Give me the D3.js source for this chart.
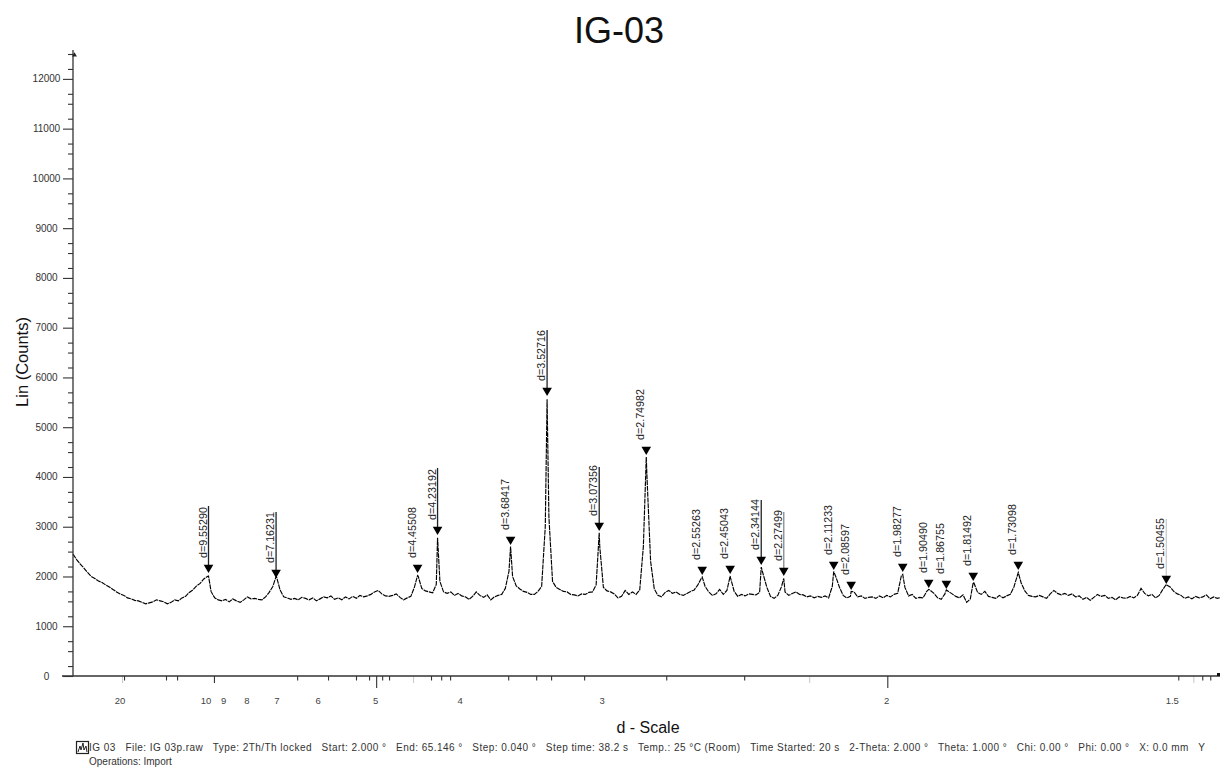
<!DOCTYPE html>
<html><head><meta charset="utf-8">
<script src="https://cdnjs.cloudflare.com/ajax/libs/d3/7.8.5/d3.min.js"></script>
<style>html,body{margin:0;background:#fff}svg{display:block;font-family:"Liberation Sans",Arial,sans-serif}</style>
</head><body><svg id="c" width="1220" height="772"></svg>
<script>
const chartTitle = "IG-03";
const scanStart = 2, scanEnd = 65.146, scanStep = 0.2;
const scanCounts = [
2450,2340,2250,2170,2080,2000,1960,1910,1880,1830,
1790,1740,1690,1650,1620,1570,1550,1520,1510,1480,
1450,1470,1490,1530,1510,1490,1450,1480,1530,1510,
1570,1600,1680,1730,1810,1860,1950,2000,1700,1570,
1530,1510,1540,1490,1550,1510,1480,1530,1590,1550,
1560,1540,1530,1590,1680,1800,2000,1730,1590,1570,
1540,1560,1530,1580,1560,1530,1570,1510,1550,1590,
1570,1610,1540,1570,1530,1590,1550,1600,1560,1620,
1590,1610,1640,1690,1720,1650,1610,1600,1620,1650,
1580,1530,1570,1600,1790,2010,1760,1710,1690,1670,
1840,1900,1690,1660,1690,1620,1660,1610,1590,1540,
1600,1690,1620,1580,1630,1530,1590,1620,1640,1760,
2100,2000,1810,1750,1700,1680,1640,1640,1700,1800,
3000,3200,1900,1780,1740,1700,1690,1640,1630,1610,
1650,1640,1680,1690,1830,2600,1780,1710,1690,1650,
1570,1600,1720,1640,1690,1640,1730,2600,4000,2300,
1750,1620,1590,1680,1720,1660,1690,1640,1620,1660,
1700,1730,1830,1970,1800,1690,1620,1650,1740,1640,
1720,1970,1700,1600,1640,1610,1650,1640,1630,1680,
2040,1780,1600,1560,1620,1790,1690,1620,1660,1690,
1640,1630,1590,1610,1570,1600,1580,1610,1570,1800,
1990,1780,1620,1570,1600,1690,1590,1610,1560,1580,
1590,1560,1610,1570,1620,1590,1640,1660,2010,1780,
1610,1640,1560,1580,1570,1700,1720,1660,1570,1540,
1650,1700,1650,1600,1570,1630,1480,1550,1870,1680,
1640,1700,1600,1580,1560,1620,1570,1610,1640,1790,
2030,1870,1710,1620,1600,1590,1620,1590,1560,1650,
1720,1660,1630,1660,1620,1650,1590,1610,1540,1580,
1520,1580,1640,1600,1620,1560,1580,1530,1590,1570,
1560,1600,1570,1620,1760,1660,1610,1640,1570,1620,
1740,1830,1790,1700,1650,1620,1560,1590,1550,1600,
1570,1590,1630,1550,1590,1560,1580];
const peakLabels = ["d=9.55290","d=7.16231","d=4.45508","d=4.23192","d=3.68417","d=3.52716","d=3.07356","d=2.74982","d=2.55263","d=2.45043","d=2.34144","d=2.27499","d=2.11233","d=2.08597","d=1.98277","d=1.90490","d=1.86755","d=1.81492","d=1.73098","d=1.50455"];
const peakAngles = [9.46,13.18,20.97,22.07,26.09,28.10,30.97,33.56,36.64,38.18,39.89,41.13,43.88,44.84,47.68,49.11,50.08,51.56,54.04,62.19];
const peakApex = [2010,2000,2020,2780,2600,5560,2880,4400,1990,2010,2190,1960,2100,1700,2040,1740,1730,1880,2080,1840];
const markerTips = [2070,1970,2070,2834,2633,5628,2915,4442,2030,2050,2231,2010,2131,1729,2090,1769,1749,1910,2131,1849];
const leaderTops = [3417,3296,null,4181,null,6955,4201,null,null,null,3538,3296,null,null,null,null,null,null,null,3156];
const leaderTones = ["#222","#222",null,"#222",null,"#222","#222",null,null,null,"#222","#888",null,null,null,null,null,null,null,"#ccc"];
const yMajor = d3.range(0,12001,1000);
const yMinor = [200,500,700,1200,1500,1700,2200,2500,2700,3200,3500,3700,4200,4500,4700,5200,5500,5700,6200,6500,6700,7200,7500,7700,8200,8500,8700,9200,9500,9700,10200,10500,10700,11200,11500,11700,12200,12500];
const xTickAngles = [4.81,7.12,7.73,14.34,16.04,17.58,18.30,19.02,19.40,21.71,22.27,22.76,25.96,27.50,28.32,30.14,34.66,38.95,62.85,64.17,64.61];
const xFaintTicks = [4.70,20.72,42.53,63.68];
const xMidTicks = [9.76];
const xLongTicks = [18.69,46.83];
const xLabelAngles = [4.59,9.32,10.29,11.58,13.23,15.49,18.66,23.31,31.13,46.80,62.52];
const xLabels = ["20","10","9","8","7","6","5","4","3","2","1.5"];
const footerLine1 = "IG 03   File: IG 03p.raw   Type: 2Th/Th locked   Start: 2.000 °   End: 65.146 °   Step: 0.040 °   Step time: 38.2 s   Temp.: 25 °C (Room)   Time Started: 20 s   2-Theta: 2.000 °   Theta: 1.000 °   Chi: 0.00 °   Phi: 0.00 °   X: 0.0 mm   Y";
const footerLine2 = "Operations: Import";

const svg = d3.select("#c");
const x = d3.scaleLinear().domain([scanStart,scanEnd]).range([73,1220]);
const y = d3.scaleLinear().domain([0,12500]).range([676,54]);

const pts = scanCounts.map((c,i)=>[scanStart+i*scanStep,c])
  .concat(peakAngles.map((a,i)=>[a,peakApex[i]]))
  .sort((a,b)=>a[0]-b[0]);

svg.append("path").attr("d",d3.line().x(d=>x(d[0])).y(d=>y(d[1]))(pts))
  .attr("fill","none").attr("stroke","#000").attr("stroke-width",1.15).attr("stroke-dasharray","5 0.8");

// y axis
const yA = svg.append("g").attr("transform","translate(73,0)");
yA.call(d3.axisLeft(y).tickValues(yMajor).tickSize(10).tickSizeOuter(0).tickFormat(""));
yA.selectAll(".domain").remove();
const yB = svg.append("g").attr("transform","translate(73,0)");
yB.call(d3.axisLeft(y).tickValues(yMinor).tickSize(5).tickSizeOuter(0).tickFormat(""));
yB.selectAll(".domain").remove();
svg.selectAll("g line").attr("stroke","#333").attr("stroke-width",1.1);
svg.append("line").attr("x1",73).attr("x2",73).attr("y1",50).attr("y2",676).attr("stroke","#333").attr("stroke-width",1.3);
svg.append("path").attr("d",d3.symbol(d3.symbolTriangle,10)()).attr("transform","translate(74.5,55)").attr("fill","#222");
svg.selectAll(".ylab").data(yMajor).join("text").attr("class","ylab")
  .attr("x",46.5).attr("y",d=>y(d)+3.5).attr("text-anchor","middle").attr("font-size",10).attr("fill","#333").text(d=>d);

// x axis
const drawTicks=(vals,len,col)=>{
  const g=svg.append("g").attr("transform","translate(0,676)");
  g.call(d3.axisBottom(x).tickValues(vals).tickSize(len).tickSizeOuter(0).tickFormat(""));
  g.selectAll(".domain").remove();
  g.selectAll("line").attr("stroke",col).attr("stroke-width",1.1);
};
drawTicks(xFaintTicks,7,"#ccc");
drawTicks(xTickAngles,4.5,"#333");
drawTicks(xMidTicks,7,"#333");
drawTicks(xLongTicks,12,"#333");
svg.append("line").attr("x1",62).attr("x2",1220).attr("y1",676).attr("y2",676).attr("stroke","#333").attr("stroke-width",1.3);
svg.selectAll(".xlab").data(xLabels).join("text").attr("class","xlab")
  .attr("x",(d,i)=>x(xLabelAngles[i])).attr("y",704).attr("text-anchor","middle").attr("font-size",9.5).attr("fill","#444").text(d=>d);

// peak markers
const tri=d3.symbol(d3.symbolTriangle,40)();
peakAngles.forEach((a,i)=>{
  const px=x(a), tip=y(markerTips[i]);
  if(leaderTops[i]!==null) svg.append("line").attr("x1",px).attr("x2",px).attr("y1",y(leaderTops[i])).attr("y2",tip-5)
    .attr("stroke",leaderTones[i]).attr("stroke-width",1.3);
  svg.append("path").attr("d",tri).attr("transform",`translate(${px},${tip-5.5}) rotate(180)`).attr("fill","#000");
  svg.append("text").attr("transform",`translate(${px-2},${tip-15}) rotate(-90)`).attr("font-size",10.7).attr("fill","#222").text(peakLabels[i]);
});

// titles
svg.append("text").attr("x",619).attr("y",43).attr("text-anchor","middle").attr("font-size",36).attr("fill","#111").text(chartTitle);
svg.append("text").attr("transform","translate(28,362) rotate(-90)").attr("text-anchor","middle").attr("font-size",16.5).attr("fill","#111").text("Lin (Counts)");
svg.append("text").attr("x",648).attr("y",733).attr("text-anchor","middle").attr("font-size",16).attr("fill","#111").text("d - Scale");

// footer
svg.append("rect").attr("x",76.5).attr("y",741.5).attr("width",12).attr("height",12).attr("fill","none").attr("stroke","#222").attr("stroke-width",1.2);
svg.append("path").attr("d",d3.line()([[78,752],[80,746],[81,750],[83,743],[84,750],[86,746],[87,752]])).attr("fill","none").attr("stroke","#222").attr("stroke-width",1);
svg.append("text").attr("x",89).attr("y",751).attr("font-size",10).attr("fill","#333").style("white-space","pre").attr("textLength",1116).attr("lengthAdjust","spacing").text(footerLine1);
svg.append("text").attr("x",89).attr("y",765).attr("font-size",10).attr("fill","#333").text(footerLine2);
svg.append("rect").attr("x",1217).attr("y",673).attr("width",3).attr("height",3).attr("fill","#111");
</script></body></html>
